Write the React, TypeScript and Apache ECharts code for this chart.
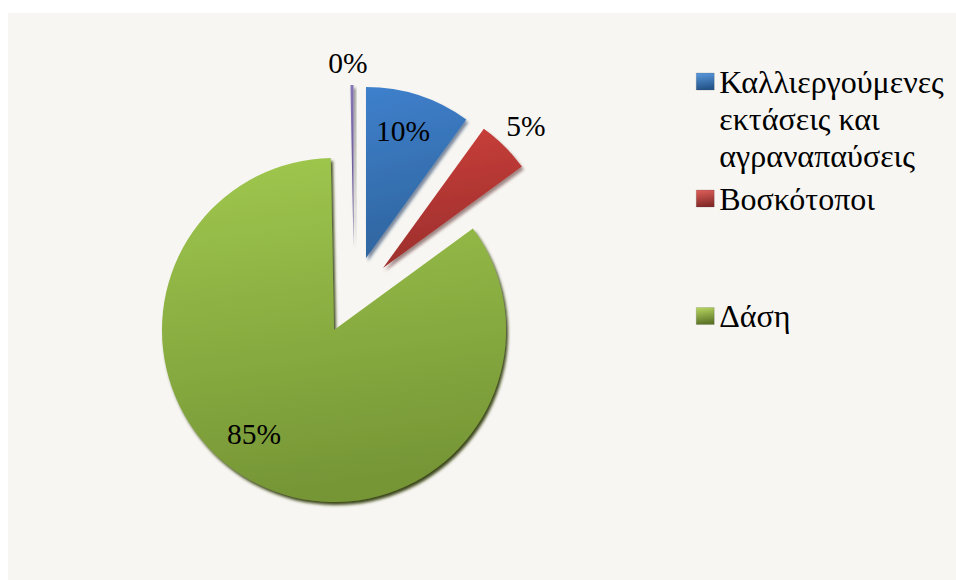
import React, { useEffect, useRef } from "react";
import * as echarts from "echarts";

const names = ["Καλλιεργούμενες\nεκτάσεις και\nαγραναπαύσεις", "Βοσκότοποι", "Δάση", "Άλλες εκτάσεις"];
const values = [10, 5, 85, 0.3];
const centers = [[366, 258], [383, 268], [334, 330], [353.5, 247]];
const radii = [171, 172, 172, 162];
const labelPos = [[403, 131], [526, 126], [254, 434], [348, 63]];
const legendTops = [-11, 180, 297.5];

const grad = (a: string, b: string) => new echarts.graphic.LinearGradient(0, 0, 0.15, 1, [
  { offset: 0, color: a },
  { offset: 1, color: b },
]);
const fills = [
  grad("#3f80cc", "#2f659f"),
  grad("#cb3f3b", "#9c2f2c"),
  grad("#a0c84e", "#769636"),
  grad("#8a78b8", "#5e4c8c"),
];
const shadows = ["rgba(25,50,90,0.55)", "rgba(70,20,20,0.5)", "rgba(50,65,15,0.95)", "rgba(40,40,40,0.6)"];
const legendIcons = [
  grad("#5a9ae0", "#245488"),
  grad("#e0605a", "#842a28"),
  grad("#b8d860", "#5c7428"),
];
const font = "Liberation Serif";

export default function App() {
  const ref = useRef<HTMLDivElement>(null);
  useEffect(() => {
    document.body.style.margin = "0";
    const chart = echarts.init(ref.current!, undefined, { renderer: "svg" });
    const series = names.map((_, s) => ({
      type: "pie",
      center: centers[s],
      radius: [0, radii[s]],
      startAngle: 90,
      clockwise: true,
      silent: true,
      percentPrecision: 0,
      labelLine: { show: false },
      labelLayout: { x: labelPos[s][0], y: labelPos[s][1], align: "center", verticalAlign: "middle" },
      data: names.map((name, i) => ({
        name,
        value: values[i],
        itemStyle: i === s
          ? { color: fills[i], shadowBlur: 3, shadowOffsetX: 2, shadowOffsetY: 3, shadowColor: shadows[i] }
          : { color: "transparent" },
        label: {
          show: i === s,
          position: "inside",
          formatter: "{d}%",
          fontFamily: font,
          fontSize: 29.5,
          color: "#000",
        },
      })),
    }));
    const legendText = {
      fontFamily: font,
      fontSize: 32,
      lineHeight: 37,
      color: "#000",
    };
    const legends = [0, 1, 2].map((i) => ({
      show: true,
      left: 696,
      top: legendTops[i],
      orient: "vertical",
      selectedMode: false,
      icon: "rect",
      itemWidth: 18,
      itemHeight: 17,
      itemGap: 0,
      padding: 0,
      formatter: (n: string) => (i === 0 ? "\n\n" + n : n),
      data: [{ name: names[i], textStyle: legendText, itemStyle: { color: legendIcons[i], borderColor: "#33333355", borderWidth: 0.5 } }],
      textStyle: legendText,
    }));
    chart.setOption({
      animation: false,
      backgroundColor: "#ffffff",
      textStyle: { fontFamily: font },
      graphic: [{
        type: "rect",
        z: 0,
        shape: { x: 8, y: 13, width: 948, height: 567 },
        style: { fill: "#f7f6f2" },
      }],
      legend: legends,
      series,
    });
    return () => chart.dispose();
  }, []);
  return <div ref={ref} style={{ width: 956, height: 580 }} />;
}
